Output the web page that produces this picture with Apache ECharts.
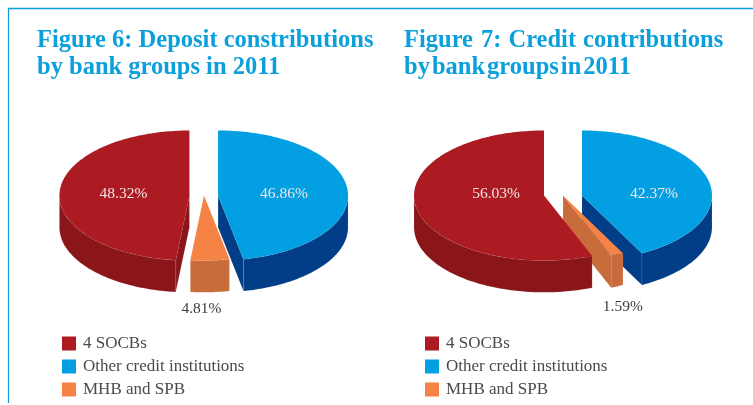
<!DOCTYPE html>
<html>
<head>
<meta charset="utf-8">
<style>html,body{margin:0;padding:0;background:#fff}#chart{width:753px;height:405px}</style>
<script src="https://cdn.jsdelivr.net/npm/echarts@6/dist/echarts.min.js"></script>
</head>
<body>
<div id="chart"></div>
<script>
// Bank-group shares, per cent
const categories = ['Other credit institutions', 'MHB and SPB', '4 SOCBs'];
const legendOrder = ['4 SOCBs', 'Other credit institutions', 'MHB and SPB'];
const depositShares = [46.86, 4.81, 48.32];
const creditShares = [42.37, 1.59, 56.03];
const depositTitle = 'Figure 6: Deposit constributions\nby bank groups in 2011';
const creditTitle = 'Figure\u00a0\u200a7:\u2009\u200aCredit\u2009\u200acontributions\nby\u200abank\u200agroups\u200ain\u200a2011';

// Slice colours: top face, side wall
const topColors = ['#02a0e3', '#f58345', '#ac1a22'];
const wallColors = ['#023e87', '#c86c3b', '#8a1619'];

// Unit-pie layout: horizontal slice offset, wall depth, label anchors
const depth = 0.49;
const depositOffsets = [0.108, 0, -0.112];
const creditOffsets = [0.146, 0, -0.146];
const depositLabels = [[0.615, 0.03], [-0.02, -1.74], [-0.62, 0.03]];
const creditLabels = [[0.70, 0.03], [0.46, -1.71], [-0.515, 0.02]];
const SERIF = '"Liberation Serif", serif';

function slicePoint(theta, dx, dy) {
  return [dx + Math.sin(theta), dy + Math.cos(theta)];
}

function makeRender(shares, offsets, labels, idx) {
  const total = shares.reduce((a, b) => a + b, 0);
  const start = shares.slice(0, idx).reduce((a, b) => a + b, 0) / total * 2 * Math.PI;
  return function (params, api) {
    const sweep = api.value(1) / total * 2 * Math.PI;
    const end = start + sweep;
    const dx = offsets[idx];
    const c = (p) => api.coord(p);
    const arc = (a, b, dy) => {
      const n = Math.max(2, Math.ceil((b - a) / 0.02));
      const out = [];
      for (let i = 0; i <= n; i++) out.push(slicePoint(a + (b - a) * i / n, dx, dy));
      return out;
    };
    const children = [];
    const wall = (pts) => children.push({
      type: 'polygon',
      shape: { points: pts.map(c) },
      style: { fill: wallColors[idx], stroke: 'rgba(255,255,255,0.18)', lineWidth: 0.5 }
    });
    // Radial cut faces that turn toward the viewer
    if (Math.sin(end) > 0) {
      const e = slicePoint(end, dx, 0), e2 = slicePoint(end, dx, -depth);
      wall([[dx, 0], e, e2, [dx, -depth]]);
    }
    if (Math.sin(start) < 0) {
      const s = slicePoint(start, dx, 0), s2 = slicePoint(start, dx, -depth);
      wall([[dx, 0], s, s2, [dx, -depth]]);
    }
    // Front rim, limited to the lower half of the ellipse
    const a = Math.max(start, Math.PI / 2);
    const b = Math.min(end, Math.PI * 1.5);
    if (b > a) wall(arc(a, b, 0).concat(arc(a, b, -depth).reverse()));
    // Top face
    children.push({
      type: 'polygon',
      shape: { points: [[dx, 0]].concat(arc(start, end, 0)).map(c) },
      style: { fill: topColors[idx] }
    });
    // Value label
    const pos = c(labels[idx]);
    children.push({
      type: 'text',
      style: {
        text: api.value(1).toFixed(2) + '%',
        x: pos[0], y: pos[1],
        align: 'center', verticalAlign: 'middle',
        font: '15.5px ' + SERIF,
        fill: idx === 1 ? '#3c3c3c' : '#f3e6e6'
      }
    });
    return { type: 'group', children };
  };
}

function pieSeries(shares, offsets, labels, gridIndex) {
  return categories.map((name, idx) => ({
    type: 'custom',
    name,
    xAxisIndex: gridIndex,
    yAxisIndex: gridIndex,
    itemStyle: { color: topColors[idx] },
    silent: true,
    clip: false,
    data: [[0, shares[idx]]],
    encode: { x: 0, y: 1 },
    renderItem: makeRender(shares, offsets, labels, idx)
  }));
}

const hiddenAxis = (gridIndex) => ({ type: 'value', min: -1.3, max: 1.3, show: false, gridIndex });
const hiddenY = (gridIndex) => ({ type: 'value', min: -2, max: 2, show: false, gridIndex });

function legendAt(left) {
  return {
    orient: 'vertical', left, top: 335, padding: 0,
    itemWidth: 14, itemHeight: 14, itemGap: 6,
    icon: 'rect', selectedMode: false,
    data: legendOrder,
    textStyle: { fontFamily: SERIF, fontSize: 17, lineHeight: 14, color: '#4a4a4a', padding: [0, 0, 0, 2] }
  };
}

const titleStyle = { fontFamily: SERIF, fontWeight: 'bold', fontSize: 24.5, color: '#0ba0dc', lineHeight: 27 };

const chart = echarts.init(document.getElementById('chart'), null, { renderer: 'canvas' });
chart.setOption({
  animation: false,
  backgroundColor: '#ffffff',
  title: [
    { text: depositTitle, left: 37, top: 27, padding: 0, textStyle: titleStyle },
    { text: creditTitle, left: 404, top: 27, padding: 0, textStyle: titleStyle }
  ],
  legend: [legendAt(62), legendAt(425)],
  // Each grid's unit square maps to the pie's ellipse radii: 130 by 65 pixels
  grid: [
    { left: 204 - 169, width: 338, top: 195.5 - 130, height: 260 },
    { left: 563 - 169, width: 338, top: 195.5 - 130, height: 260 }
  ],
  xAxis: [hiddenAxis(0), hiddenAxis(1)],
  yAxis: [hiddenY(0), hiddenY(1)],
  series: [
    ...pieSeries(depositShares, depositOffsets, depositLabels, 0),
    ...pieSeries(creditShares, creditOffsets, creditLabels, 1)
  ],
  graphic: [
    // Panel rule along the top and left edges
    {
      type: 'polyline',
      shape: { points: [[753, 8.5], [8.5, 8.5], [8.5, 403]] },
      style: { stroke: '#0ba0dc', lineWidth: 1.3, fill: 'none' },
      silent: true
    }
  ]
});
</script>
</body>
</html>
